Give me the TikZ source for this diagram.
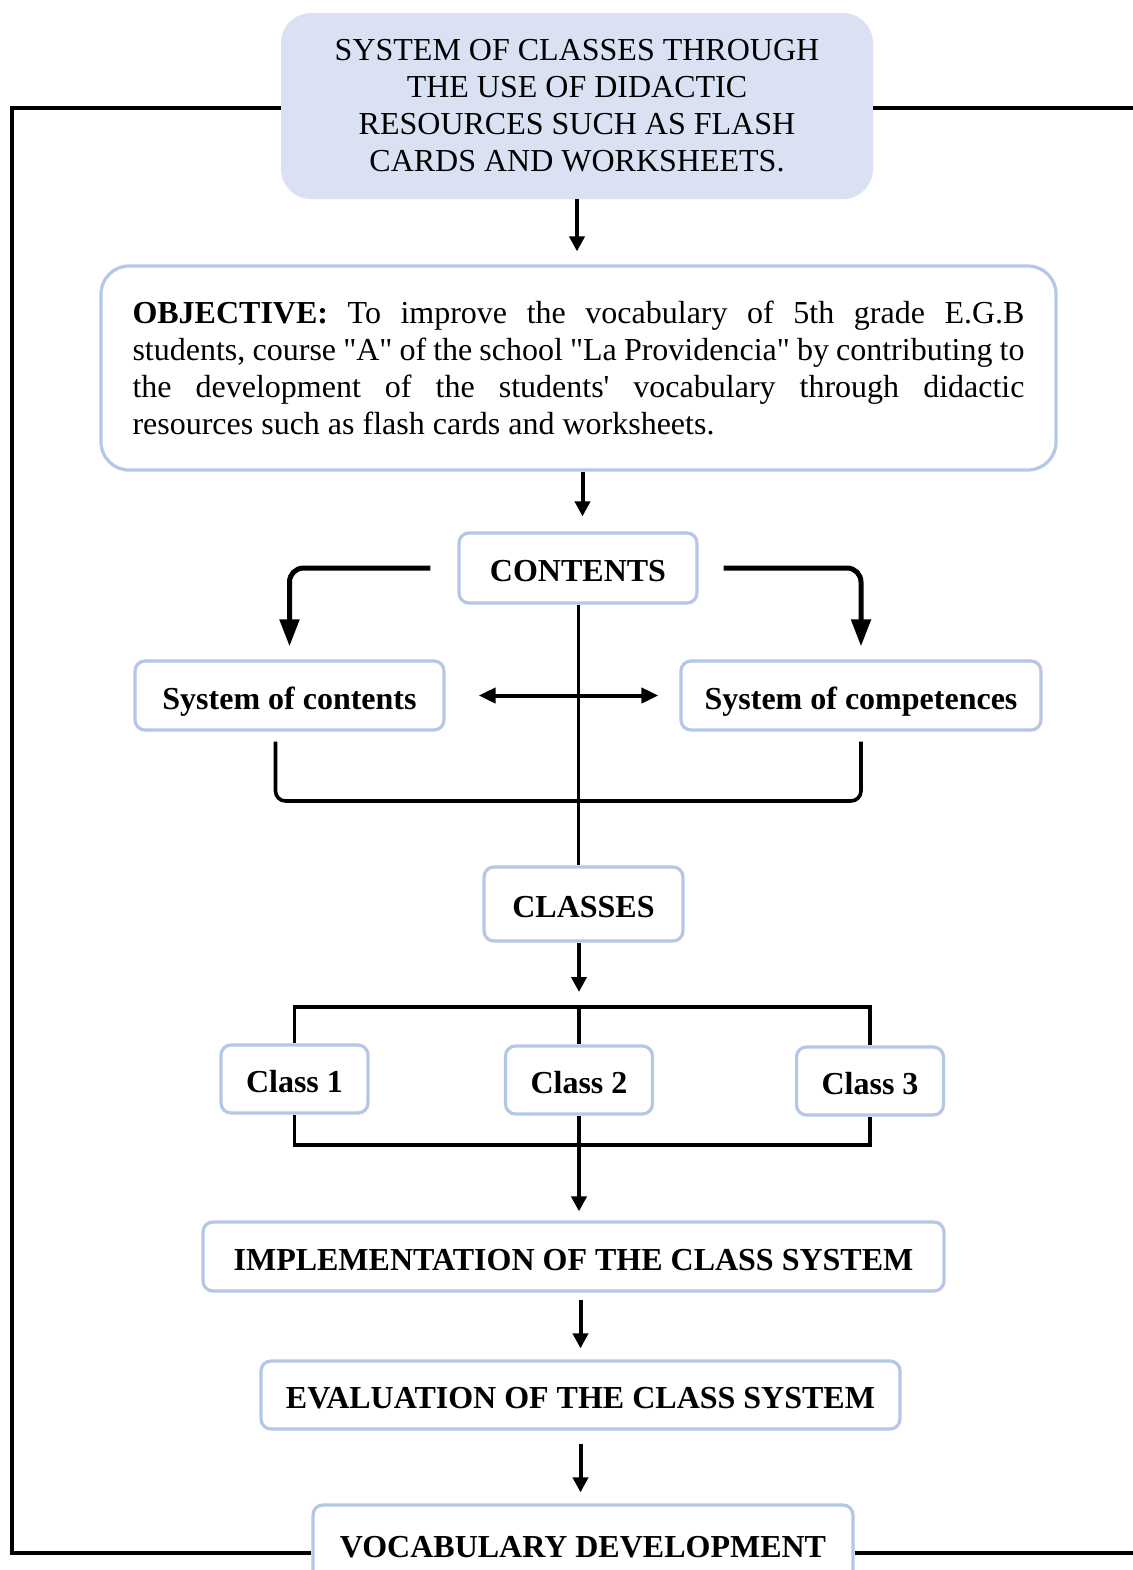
\documentclass[tikz,border=0pt]{standalone}
\usepackage{fontspec}
\setmainfont{Liberation Serif}[Ligatures=TeXOff]
\usetikzlibrary{arrows.meta}
\definecolor{boxline}{HTML}{B4C7E7}
\definecolor{titlefill}{HTML}{D9E1F3}

\begin{document}
\begin{tikzpicture}[
    x=0.5pt, y=-0.5pt, % coordinates in pixels, y downwards
    every node/.style={inner sep=0pt, font=\fontsize{16}{18.5}\selectfont},
    frame box/.style={draw=boxline, line width=1.6pt, rounded corners=5pt, fill=white},
    card/.style={frame box, align=center, text height=13.5pt, text depth=0pt, font=\fontsize{16}{18.5}\selectfont\bfseries},
    title box/.style={fill=titlefill, rounded corners=15pt, align=center},
    flow arrow/.style={line width=2pt, -{Triangle[length=7.5pt,width=7.5pt]}},
    bend arrow/.style={line width=2.5pt, rounded corners=7pt, -{Triangle[length=13.5pt,width=9.5pt]}},
    twoway arrow/.style={line width=2pt, {Triangle[length=8.5pt,width=7.5pt]}-{Triangle[length=8.5pt,width=7.5pt]}},
    bracket line/.style={line width=1.8pt, rounded corners=5pt},
    frame line/.style={line width=2pt}
    ]
    \useasboundingbox (0,0) rectangle (1133,1570);

    \node[title box, minimum width=296pt, minimum height=93pt] (title) at (577,106)
      {SYSTEM OF CLASSES THROUGH\\ THE USE OF DIDACTIC\\ RESOURCES SUCH AS FLASH\\ CARDS AND WORKSHEETS.};
    \node[frame box, rounded corners=14pt, minimum width=477.5pt, minimum height=102pt, text width=446pt,
          align=justify] (objective) at (578.5,368)
      {\textbf{OBJECTIVE:} To improve the vocabulary of 5th grade E.G.B\linebreak
       students, course "A" of the school "La Providencia" by contributing to\linebreak
       the development of the students' vocabulary through didactic\linebreak
       resources such as flash cards and worksheets.};

    \node[card, minimum width=119pt, minimum height=35pt] (contents) at (578,568) {CONTENTS};
    \node[card, minimum width=154.5pt, minimum height=34.5pt] (syscontents) at (289.5,695.5) {System of contents};
    \node[card, minimum width=180pt, minimum height=34.5pt] (syscompetences) at (861,695.5) {System of competences};
    \node[card, minimum width=99.5pt, minimum height=37pt] (classes) at (583.5,904) {CLASSES};

    \node[card, minimum width=73.5pt, minimum height=34pt] (class1) at (294.5,1079) {Class 1};
    \node[card, minimum width=73.5pt, minimum height=34pt] (class2) at (579,1080) {Class 2};
    \node[card, minimum width=73.5pt, minimum height=34pt] (class3) at (870,1081) {Class 3};

    \node[card, minimum width=370.5pt, minimum height=34.5pt] (implementation) at (573.5,1256.5) {IMPLEMENTATION OF THE CLASS SYSTEM};
    \node[card, minimum width=319.5pt, minimum height=34pt] (evaluation) at (580.5,1395) {EVALUATION OF THE CLASS SYSTEM};
    \node[card, minimum width=270pt, minimum height=39pt] (vocabulary) at (583,1544) {VOCABULARY DEVELOPMENT};

    % outer frame
    \coordinate (frameBL) at (12,1553);
    \coordinate (frameR) at (1140,1553);
    \draw[frame line] ([yshift=-1pt]title.west) -| (frameBL) -- (frameBL -| vocabulary.west);
    \draw[frame line] ([yshift=-1pt]title.east) -- ([yshift=-1pt]title.east -| frameR);
    \draw[frame line] (vocabulary.east |- frameBL) -- (frameR);

    \draw[flow arrow, shorten >=6.5pt] (title.south) -- (title.south |- objective.north);
    \draw[flow arrow, shorten >=7.5pt] ([xshift=2pt]objective.south) -- ([xshift=2pt]objective.south |- contents.north);

    \draw[bend arrow, shorten <=13.5pt, shorten >=6.5pt] (contents.west) -| (syscontents.north);
    \draw[bend arrow, shorten <=12.5pt, shorten >=6.5pt] (contents.east) -| (syscompetences.north);
    \draw[twoway arrow, shorten <=16.5pt, shorten >=10.5pt] (syscontents.east) -- (syscompetences.west);

    \coordinate (join) at (578,801);
    \draw[bracket line] ([xshift=-7pt,yshift=-5pt]syscontents.south) |- (join) -| ([yshift=-5pt]syscompetences.south);
    \draw[line width=1.5pt] (contents.south) -- (contents.south |- classes.north);

    \coordinate (classtop) at (579,1007);
    \coordinate (classbot) at (579,1145);
    \draw[flow arrow, shorten >=7.5pt] (classes.south -| classtop) -- (classtop);
    \draw[bracket line, rounded corners=0pt] (class1.north) |- (classtop) -| (class3.north);
    \draw[bracket line, rounded corners=0pt] (class1.south) |- (classbot) -| (class3.south);
    \draw[bracket line] (classtop) -- (class2.north);
    \draw[flow arrow, shorten >=4.5pt] (class2.south) -- (class2.south |- implementation.north);

    \draw[flow arrow, shorten <=3.5pt, shorten >=5.5pt] (evaluation.north |- implementation.south) -- (evaluation.north);
    \draw[flow arrow, shorten <=6.5pt, shorten >=5.5pt] (evaluation.south) -- (evaluation.south |- vocabulary.north);
\end{tikzpicture}
\end{document}
